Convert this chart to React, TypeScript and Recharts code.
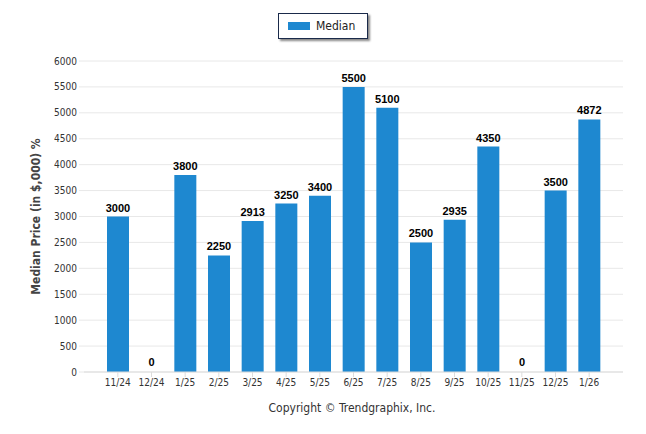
import { BarChart, Bar, XAxis, YAxis, CartesianGrid, LabelList, Rectangle } from 'recharts';

const months = ['11/24', '12/24', '1/25', '2/25', '3/25', '4/25', '5/25', '6/25', '7/25', '8/25', '9/25', '10/25', '11/25', '12/25', '1/26'];
const medianValues = [3000, 0, 3800, 2250, 2913, 3250, 3400, 5500, 5100, 2500, 2935, 4350, 0, 3500, 4872];
const yTicks = [0, 500, 1000, 1500, 2000, 2500, 3000, 3500, 4000, 4500, 5000, 5500, 6000];

const data = months.map((m, i) => ({ month: m, median: medianValues[i] }));

const BLUE = '#1e88d0';
const FONT = 'Tahoma, "DejaVu Sans Condensed", "DejaVu Sans", sans-serif';

// zero values still get a 1px slot so their label shows, but no rect is drawn
const BarShape = (props: any) => {
  if (!props.payload || props.payload.median <= 0) return <g />;
  return <Rectangle {...props} />;
};

export default function App() {
  return (
    <div style={{ position: 'absolute', left: 0, top: 0, width: 646, height: 434, background: '#fff', fontFamily: FONT }}>
      {/* legend box */}
      <div
        style={{
          position: 'absolute',
          left: 278,
          top: 13,
          width: 88,
          height: 24,
          border: '1px solid #1a2a4a',
          boxShadow: '2px 2px 2px #888',
          display: 'flex',
          alignItems: 'center',
          background: '#fff',
        }}
      >
        <div style={{ width: 22, height: 8, background: BLUE, marginLeft: 9, marginRight: 6 }} />
        <span style={{ fontSize: 12, color: '#222', fontFamily: FONT }}>Median</span>
      </div>

      <BarChart
        width={646}
        height={434}
        data={data}
        margin={{ top: 61, right: 23, left: 0, bottom: 32 }}
        barSize={22}
      >
        <CartesianGrid vertical={false} stroke="#e8e8e8" />
        <XAxis
          dataKey="month"
          padding={{ left: 17, right: 17 }}
          height={30}
          tick={{ fontSize: 10, fill: '#333', fontFamily: FONT }}
          tickLine={{ stroke: '#ddd' }}
          tickSize={5}
          axisLine={{ stroke: '#ddd' }}
          interval={0}
        />
        <YAxis
          width={84}
          domain={[0, 6000]}
          ticks={yTicks}
          interval={0}
          axisLine={false}
          tickLine={{ stroke: '#e8e8e8' }}
          tickSize={5}
          tick={{ fontSize: 10, fill: '#333', fontFamily: FONT }}
          label={{
            value: 'Median Price (in $,000) %',
            angle: -90,
            position: 'insideLeft',
            offset: 36,
            style: { textAnchor: 'middle', fontSize: 12, fontWeight: 'bold', fill: '#444', fontFamily: FONT },
          }}
        />
        <Bar dataKey="median" fill={BLUE} isAnimationActive={false} minPointSize={1} shape={BarShape}>
          <LabelList
            dataKey="median"
            position="top"
            offset={5}
            style={{ fontSize: 11, fontWeight: 'bold', fill: '#000', fontFamily: 'Arial, "Liberation Sans", sans-serif' }}
          />
        </Bar>
      </BarChart>

      <div
        style={{
          position: 'absolute',
          top: 401,
          left: 0,
          width: 704,
          textAlign: 'center',
          fontSize: 12,
          color: '#333',
          fontFamily: FONT,
        }}
      >
        Copyright © Trendgraphix, Inc.
      </div>
    </div>
  );
}
